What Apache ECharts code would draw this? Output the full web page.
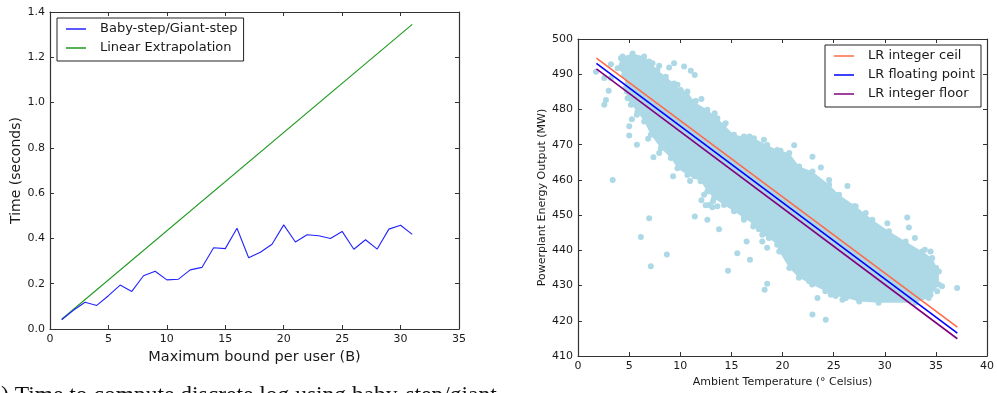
<!DOCTYPE html>
<html>
<head>
<meta charset="utf-8">
<script src="https://cdn.jsdelivr.net/npm/echarts@6/dist/echarts.min.js"></script>
<style>
  html, body { margin: 0; padding: 0; background: #fff; }
  #chart { width: 997px; height: 393px; }
</style>
</head>
<body>
<div id="chart"></div>
<script>
// left panel: discrete log timings
const boundB = [1, 2, 3, 4, 5, 6, 7, 8, 9, 10, 11, 12, 13, 14, 15, 16, 17, 18, 19, 20, 21, 22, 23, 24, 25, 26, 27, 28, 29, 30, 31];
const babyStepTime = [0.041, 0.083, 0.118, 0.104, 0.147, 0.194, 0.166, 0.235, 0.255, 0.217, 0.220, 0.261, 0.272, 0.359, 0.355, 0.445, 0.315, 0.339, 0.374, 0.460, 0.384, 0.416, 0.412, 0.400, 0.431, 0.352, 0.394, 0.353, 0.441, 0.458, 0.418];
const linearB = [1, 31];
const linearTime = [0.043, 1.345];

// right panel: powerplant regression
const fitTemp = [1.8, 37.1];
const ceilOutput = [494.6, 418.2];
const floatOutput = [493.1, 416.5];
const floorOutput = [491.5, 414.9];

// outline of the dense part of the cloud (temp, output)
const cloudOutline = [
  [4.36, 495.0], [5.34, 495.9], [6.47, 495.0], [6.96, 493.6], [7.77, 491.2], [8.59, 489.3],
  [9.4, 487.4], [10.05, 485.5], [10.7, 485.1], [11.35, 482.2], [12.65, 479.9], [13.63, 477.5],
  [14.28, 475.6], [15.25, 472.8], [16.23, 472.3], [17.2, 471.8], [18.5, 469.9], [19.48, 468.5],
  [20.66, 467.6], [21.63, 463.8], [22.93, 462.4], [24.56, 458.6], [25.53, 455.8], [27.16, 452.5],
  [28.79, 448.7], [30.41, 445.4], [32.04, 442.5], [33.66, 439.7], [34.64, 437.8], [35.29, 434.0],
  [35.29, 430.3], [34.3, 426.5], [33.0, 425.1], [29.4, 425.1], [27.5, 425.5], [26.2, 426.5],
  [25.2, 427.0], [24.2, 428.4], [22.9, 430.3], [21.6, 432.2], [20.66, 435.0], [19.68, 439.7],
  [19.48, 441.6], [18.67, 443.5], [18.02, 444.4], [17.2, 447.3], [16.23, 449.2], [15.25, 451.1],
  [14.28, 452.9], [13.3, 454.8], [12.65, 456.7], [12.0, 459.6], [10.7, 461.4], [9.73, 463.3],
  [9.08, 466.2], [8.1, 469.0], [7.12, 472.8], [6.47, 476.6], [5.82, 479.4], [5.17, 481.3],
  [4.85, 483.2], [4.68, 486.0], [4.52, 489.8], [3.87, 491.7], [4.2, 494.5]
];

// individual readings around the edges and outliers
const scatterPoints = [
  [1.76, 490.7], [2.57, 488.9], [3.0, 485.3], [2.73, 482.7], [2.57, 481.3], [3.22, 492.8],
  [3.39, 460.0], [5.01, 475.2], [5.01, 472.6], [5.76, 470.0], [6.86, 471.7], [7.38, 466.4],
  [7.94, 467.6], [9.3, 461.0], [10.96, 459.7], [11.42, 449.6], [12.65, 448.7], [13.79, 446.0],
  [6.96, 449.1], [6.15, 443.8], [7.12, 435.5], [8.69, 438.8], [14.67, 434.2], [15.58, 439.2],
  [16.49, 442.5], [16.82, 437.3], [17.14, 446.8], [17.69, 446.0], [18.5, 430.5], [18.25, 428.8],
  [12.33, 455.8], [12.07, 454.2], [12.49, 452.8], [13.14, 452.2], [13.2, 453.9], [13.95, 455.0],
  [11.42, 461.0], [7.29, 493.1], [7.94, 492.4], [9.4, 493.1], [10.38, 492.2], [11.03, 491.0],
  [11.42, 489.8], [8.91, 491.9], [9.73, 487.0], [11.52, 482.4], [12.07, 483.0], [13.37, 478.9],
  [14.44, 476.1], [16.78, 472.3], [18.18, 471.4], [19.81, 468.3], [5.27, 477.2], [5.76, 478.5],
  [6.86, 477.3], [7.84, 471.8], [8.91, 469.2], [9.4, 468.2], [10.7, 462.9], [13.14, 458.1],
  [12.82, 452.9], [13.63, 452.5], [16.23, 448.7], [18.02, 442.5], [18.5, 440.7], [19.81, 440.2],
  [3.22, 488.9], [4.78, 485.1], [21.14, 469.8], [22.93, 466.6], [23.75, 463.5], [26.35, 458.3],
  [27.0, 452.5], [28.14, 450.6], [30.25, 447.7], [32.2, 449.3], [32.36, 446.5], [32.95, 443.5],
  [33.92, 440.2], [34.48, 439.7], [35.03, 435.0], [35.6, 429.8], [37.08, 429.3], [22.93, 421.8],
  [24.23, 420.3], [23.42, 426.5], [24.72, 427.4], [25.86, 426.0], [27.48, 426.0], [22.61, 431.2],
  [21.31, 435.0], [21.79, 434.0], [34.96, 432.1], [35.13, 428.4], [34.48, 427.4], [24.56, 460.0]
];

const FONT = "DejaVu Sans";
const INK = "#1a1a1a";

function bottomAxis(gridIndex, min, max, interval, name, nameSize, nameGap) {
  return {
    type: "value", gridIndex, min, max, interval, position: "bottom",
    name, nameLocation: "middle", nameGap,
    nameTextStyle: { fontFamily: FONT, fontSize: nameSize, color: INK },
    axisLine: { show: true, onZero: false, lineStyle: { color: "#333", width: 1.2 } },
    axisTick: { show: true, inside: true, length: 4, lineStyle: { color: "#333" } },
    axisLabel: { fontFamily: FONT, fontSize: 11, color: INK, margin: 5 },
    splitLine: { show: false }
  };
}

function leftAxis(gridIndex, min, max, interval, name, nameSize, nameGap, fmt) {
  return {
    type: "value", gridIndex, min, max, interval, position: "left",
    name, nameLocation: "middle", nameGap,
    nameTextStyle: { fontFamily: FONT, fontSize: nameSize, color: INK },
    axisLine: { show: true, onZero: false, lineStyle: { color: "#333", width: 1.2 } },
    axisTick: { show: true, inside: true, length: 4, lineStyle: { color: "#333" } },
    axisLabel: { fontFamily: FONT, fontSize: 11, color: INK, margin: 5, formatter: fmt },
    splitLine: { show: false }
  };
}

// mirror axes just for the ticks on the top and right spines
function mirrorAxis(gridIndex, min, max, interval, position) {
  return {
    type: "value", gridIndex, min, max, interval, position,
    axisLine: { show: true, onZero: false, lineStyle: { color: "#333", width: 1.2 } },
    axisTick: { show: true, inside: true, length: 4, lineStyle: { color: "#333" } },
    axisLabel: { show: false },
    splitLine: { show: false }
  };
}

const legendBase = {
  orient: "vertical",
  backgroundColor: "#fff",
  borderColor: "#222",
  borderWidth: 1,
  borderRadius: 0,
  icon: "rect",
  itemWidth: 20,
  itemHeight: 1.5,
  itemGap: 3,
  textStyle: { fontFamily: FONT, fontSize: 13, color: INK, lineHeight: 16, padding: [0, 0, 0, 9] }
};

const chart = echarts.init(document.getElementById("chart"), null, { renderer: "canvas" });

chart.setOption({
  animation: false,
  backgroundColor: "#fff",
  grid: [
    { left: 50, top: 12, width: 409, height: 317 },
    { left: 578, top: 39, width: 410, height: 317 }
  ],
  xAxis: [
    bottomAxis(0, 0, 35, 5, "Maximum bound per user (B)", 14.5, 19),
    bottomAxis(1, 0, 40, 5, "Ambient Temperature (\u00b0 Celsius)", 11, 19),
    mirrorAxis(0, 0, 35, 5, "top"),
    mirrorAxis(1, 0, 40, 5, "top")
  ],
  yAxis: [
    leftAxis(0, 0, 1.4, 0.2, "Time (seconds)", 14, 27, (v) => v.toFixed(1)),
    leftAxis(1, 410, 500, 10, "Powerplant Energy Output (MW)", 11, 29, (v) => String(v)),
    mirrorAxis(0, 0, 1.4, 0.2, "right"),
    mirrorAxis(1, 410, 500, 10, "right")
  ],
  legend: [
    Object.assign({}, legendBase, {
      left: 57, top: 18, padding: [3, 6, 5, 9],
      data: ["Baby-step/Giant-step", "Linear Extrapolation"]
    }),
    Object.assign({}, legendBase, {
      left: 825, top: 45, padding: [3, 6, 5, 9],
      data: ["LR integer ceil", "LR floating point", "LR integer floor"]
    })
  ],
  graphic: [{
    type: "text", left: 1, top: 384, silent: true,
    style: { text: ") Time to compute discrete log using baby-step/giant-", font: "23.5px 'Liberation Serif'", fill: "#111" }
  }],
  series: [
    {
      name: "Baby-step/Giant-step", type: "line", xAxisIndex: 0, yAxisIndex: 0,
      data: boundB.map((b, i) => [b, babyStepTime[i]]),
      showSymbol: false, symbol: "none", color: "#2323ff",
      lineStyle: { width: 1.1, color: "#2323ff" }, z: 3
    },
    {
      name: "Linear Extrapolation", type: "line", xAxisIndex: 0, yAxisIndex: 0,
      data: linearB.map((b, i) => [b, linearTime[i]]),
      showSymbol: false, symbol: "none", color: "#1f991f",
      lineStyle: { width: 1.1, color: "#1f991f" }, z: 2
    },
    {
      name: "cloud", type: "custom", xAxisIndex: 1, yAxisIndex: 1,
      data: [[20, 455]], silent: true, z: 1,
      renderItem: (params, api) => ({
        type: "polygon",
        shape: { points: cloudOutline.map((p) => api.coord(p)) },
        style: { fill: "#add8e6" }
      })
    },
    {
      name: "points", type: "scatter", xAxisIndex: 1, yAxisIndex: 1,
      data: scatterPoints.concat(cloudOutline), symbolSize: 6, silent: true, z: 1,
      itemStyle: { color: "#add8e6", opacity: 1 }
    },
    {
      name: "LR integer ceil", type: "line", xAxisIndex: 1, yAxisIndex: 1,
      data: fitTemp.map((t, i) => [t, ceilOutput[i]]),
      symbol: "none", color: "#ff6a4a", lineStyle: { width: 1.6, color: "#ff6a4a" }, z: 4
    },
    {
      name: "LR floating point", type: "line", xAxisIndex: 1, yAxisIndex: 1,
      data: fitTemp.map((t, i) => [t, floatOutput[i]]),
      symbol: "none", color: "#0000ff", lineStyle: { width: 1.6, color: "#0000ff" }, z: 4
    },
    {
      name: "LR integer floor", type: "line", xAxisIndex: 1, yAxisIndex: 1,
      data: fitTemp.map((t, i) => [t, floorOutput[i]]),
      symbol: "none", color: "#800080", lineStyle: { width: 1.6, color: "#800080" }, z: 4
    }
  ]
});
</script>
</body>
</html>
